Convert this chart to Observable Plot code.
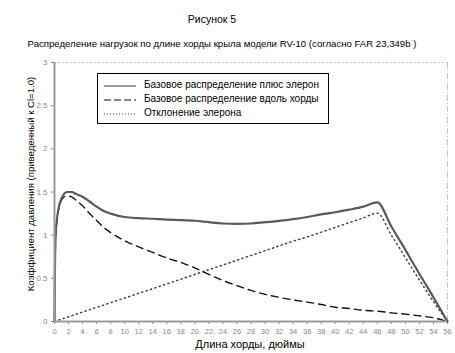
<!DOCTYPE html>
<html>
<head>
<meta charset="utf-8">
<script src="https://cdn.jsdelivr.net/npm/d3@7"></script>
<script src="https://cdn.jsdelivr.net/npm/@observablehq/plot@0.6"></script>
<style>
  body { margin: 0; background: #fff; font-family: "Liberation Sans", Arial, sans-serif; }
  #wrap { position: relative; width: 455px; height: 353px; overflow: hidden; }
  #chart { position: absolute; left: 0; top: 0; }
  .t { position: absolute; white-space: nowrap; color: #000; }
  #title { top: 13px; left: 0; width: 424px; text-align: center; font-size: 10.5px; }
  #subtitle { top: 38px; left: 0; width: 444px; text-align: center; font-size: 9.6px; }
  #xlabel { top: 338px; left: 195px; width: 110px; text-align: center; font-size: 11px; line-height: 12px; }
  #ylabel { left: 30px; top: 184px; font-size: 9.6px; transform: translate(-50%, -50%) rotate(-90deg); }
  #legend { position: absolute; left: 97px; top: 73px; width: 232px; height: 51px; border: 1px solid #000; box-sizing: border-box; background: #fff; }
  .row { position: absolute; left: 0; height: 14px; font-size: 10px; }
  .row svg { position: absolute; left: 6px; top: 2px; }
  .row span { position: absolute; left: 46px; top: 0; white-space: nowrap; }
</style>
</head>
<body>
<div id="wrap">
  <div id="chart"></div>
  <div class="t" id="title"></div>
  <div class="t" id="subtitle"></div>
  <div class="t" id="xlabel"></div>
  <div class="t" id="ylabel"></div>
  <div id="legend"></div>
</div>
<script>
// ---- text ----
const titleText = "Рисунок 5";
const subtitleText = "Распределение нагрузок по длине хорды крыла модели RV-10 (согласно FAR 23,349b )";
const xLabelText = "Длина хорды, дюймы";
const yLabelText = "Коэффициент давления (приведенный к Cl=1.0)";
const seriesNames = ["Базовое распределение плюс элерон", "Базовое распределение вдоль хорды", "Отклонение элерона"];

// ---- data ----
const chordX = [0,0.05,0.15,0.4,0.8,1.2,1.8,2.5,3,4,5,6,7,8,10,12,14,16,18,20,22,24,26,28,30,32,34,36,38,40,42,44,46,48,50,52,54,56];
const totalValues = [0,0.5,0.97,1.22,1.38,1.46,1.5,1.5,1.48,1.445,1.39,1.33,1.28,1.25,1.21,1.197,1.19,1.18,1.175,1.167,1.15,1.135,1.13,1.135,1.15,1.165,1.185,1.21,1.24,1.265,1.295,1.33,1.38,1.1,0.83,0.55,0.28,0];
const baseValues = [0,0.5,0.95,1.2,1.36,1.43,1.455,1.44,1.41,1.34,1.25,1.17,1.09,1.03,0.935,0.865,0.8,0.735,0.685,0.62,0.545,0.475,0.415,0.36,0.315,0.28,0.25,0.225,0.197,0.165,0.15,0.13,0.12,0.1,0.085,0.065,0.043,0];
const aileronValues = [0,0.001,0.004,0.011,0.022,0.033,0.05,0.068,0.082,0.11,0.137,0.164,0.19,0.218,0.272,0.327,0.38,0.435,0.49,0.545,0.6,0.655,0.71,0.765,0.82,0.875,0.93,0.98,1.035,1.09,1.145,1.2,1.255,1.0,0.74,0.48,0.23,0];
const xTicks = d3.range(0, 57, 2);
const yTicks = [0, 0.5, 1, 1.5, 2, 2.5, 3];

// ---- styles ----
const styles = [
  {stroke: "#5a5a5a", strokeWidth: 2.2, dash: null},
  {stroke: "#111", strokeWidth: 1.4, dash: "7,5"},
  {stroke: "#444", strokeWidth: 1.5, dash: "1.2,3.4"}
];
const seriesValues = [totalValues, baseValues, aileronValues];
const tables = seriesValues.map(vals => chordX.map((x, i) => ({x, y: vals[i]})));

const marks = [
  Plot.ruleY([3], {stroke: "#c4c4c4", strokeWidth: 1, strokeDasharray: "2,2"}),
  Plot.ruleX([56], {stroke: "#c4c4c4", strokeWidth: 1, strokeDasharray: "6,2,1,2"}),
  Plot.axisY(yTicks, {tickSize: 3, tickPadding: 4, fontSize: 8, color: "#888", stroke: "#888", label: null, tickFormat: d => String(d)}),
  Plot.axisX(xTicks, {tickSize: 3, tickPadding: 4, fontSize: 7.5, color: "#888", stroke: "#888", label: null, tickFormat: d => String(d)}),
];
// lines drawn from the back (dotted) to the front (solid)
[2, 1, 0].forEach(k => {
  marks.push(Plot.line(tables[k], {x: "x", y: "y", stroke: styles[k].stroke, strokeWidth: styles[k].strokeWidth,
    strokeDasharray: styles[k].dash, curve: "monotone-x"}));
});
marks.push(Plot.ruleX([0], {stroke: "#999", strokeWidth: 2}));
marks.push(Plot.ruleY([0], {stroke: "#999", strokeWidth: 2}));

const chart = Plot.plot({
  width: 455,
  height: 353,
  marginLeft: 54,
  marginRight: 8,
  marginTop: 62,
  marginBottom: 32,
  x: {domain: [0, 56]},
  y: {domain: [0, 3]},
  style: {fontFamily: "Liberation Sans, Arial, sans-serif", background: "#fff"},
  marks
});
document.getElementById("chart").appendChild(chart);

document.getElementById("title").textContent = titleText;
document.getElementById("subtitle").textContent = subtitleText;
document.getElementById("xlabel").textContent = xLabelText;
document.getElementById("ylabel").textContent = yLabelText;

// legend
const legend = document.getElementById("legend");
const rowTops = [5, 19, 33];
seriesNames.forEach((name, k) => {
  const row = document.createElement("div");
  row.className = "row";
  row.style.top = rowTops[k] + "px";
  const s = styles[k];
  row.innerHTML = `<svg width="32" height="10"><line x1="0" x2="32" y1="5" y2="5" stroke="${s.stroke}" stroke-width="1.2" ${s.dash ? `stroke-dasharray="${k === 1 ? '7,3' : '1,2'}"` : ''}/></svg><span></span>`;
  row.querySelector("span").textContent = name;
  legend.appendChild(row);
});
</script>
</body>
</html>
